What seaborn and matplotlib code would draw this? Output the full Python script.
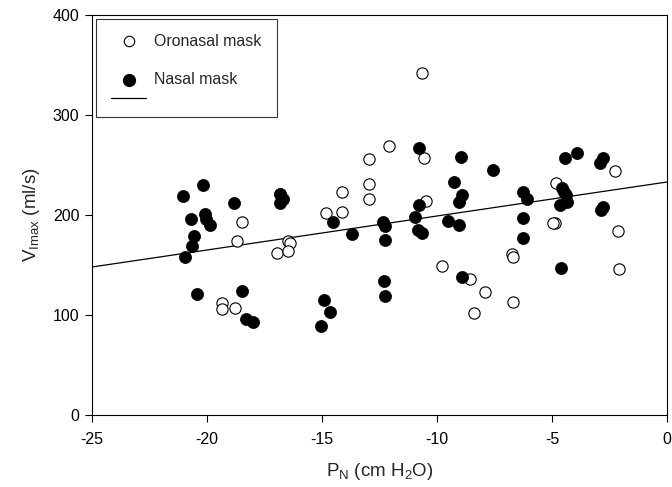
import numpy as np
import pandas as pd
import matplotlib
matplotlib.use("Agg")
import matplotlib.pyplot as plt
from matplotlib.lines import Line2D
from matplotlib.offsetbox import VPacker
import seaborn as sns

# ---- data ----
oro_x = [-10.66, -12.1, -12.94, -10.57, -14.12, -12.96, -12.96, -10.48, -14.81, -14.14,
         -9.77, -8.57, -7.9, -8.38,
         -18.5, -18.7, -16.83, -16.5, -16.38, -16.94, -16.5, -19.35, -19.35, -18.8,
         -2.24, -4.84, -4.87, -4.95, -2.14, -2.1, -6.75, -6.68, -6.68]
oro_y = [342, 269, 256, 257, 223, 231, 216, 214, 202, 203,
         149, 136, 123, 102,
         193, 174, 221, 174, 172, 162, 164, 112, 106, 107,
         244, 232, 192, 192, 184, 146, 161, 158, 113]

nas_x = [-10.78, -8.97, -7.58, -9.25, -8.93, -9.04, -10.8, -10.96, -9.53, -9.06,
         -12.35, -12.27, -10.81, -10.67, -14.54, -13.68, -12.27, -12.32, -12.25, -8.91,
         -14.9, -14.65, -15.06,
         -21.03, -20.19, -18.83, -16.83, -16.68, -16.83, -20.71, -20.07, -20.04, -19.88,
         -20.55, -20.67, -20.97, -20.45, -18.49, -18.32, -17.99,
         -4.43, -3.93, -2.77, -2.9, -6.25, -6.1, -4.58, -4.48, -4.39, -4.36, -4.65,
         -6.25, -6.25, -4.62, -2.77, -2.85]
nas_y = [267, 258, 245, 233, 220, 213, 210, 198, 194, 190,
         193, 189, 185, 182, 193, 181, 175, 134, 119, 138,
         115, 103, 89,
         219, 230, 212, 221, 216, 212, 196, 201, 196, 190,
         179, 169, 158, 121, 124, 96, 93,
         257, 262, 257, 252, 223, 216, 227, 223, 220, 213, 210,
         197, 177, 147, 208, 205]

fit_x = [-25, 0]
fit_y = [148, 233]

x_ticks = [-25, -20, -15, -10, -5, 0]
y_ticks = [0, 100, 200, 300, 400]

# ---- style ----
sns.set_theme(style="white")
plt.rcParams['font.family'] = ['Liberation Sans', 'DejaVu Sans']
plt.rcParams['mathtext.fontset'] = 'custom'
plt.rcParams['mathtext.rm'] = 'Liberation Sans'
plt.rcParams['mathtext.it'] = 'Liberation Sans:italic'

fig = plt.figure(figsize=(6.72, 4.87), dpi=100)
ax = fig.add_axes([92/672, 1-415/487, (667-92)/672, (415-15)/487])

df_o = pd.DataFrame({"x": oro_x, "y": oro_y})
df_n = pd.DataFrame({"x": nas_x, "y": nas_y})
df_f = pd.DataFrame({"x": fit_x, "y": fit_y})

sns.lineplot(data=df_f, x="x", y="y", ax=ax, color="black", linewidth=0.9, zorder=1)
sns.scatterplot(data=df_o, x="x", y="y", ax=ax, s=66, facecolor="white",
                edgecolor="black", linewidth=0.8, zorder=2)
sns.scatterplot(data=df_n, x="x", y="y", ax=ax, s=76, color="black",
                edgecolor="black", linewidth=0.5, zorder=3)

ax.set_xlim(-25, 0)
ax.set_ylim(0, 400)
ax.set_xticks(x_ticks)
ax.set_yticks(y_ticks)
ax.set_xticklabels([str(t) for t in x_ticks])
ax.set_yticklabels([str(t) for t in y_ticks])
ax.tick_params(axis='both', direction='out', length=5, width=0.8, colors='black',
               labelsize=11.5, bottom=True, left=True)
ax.tick_params(axis='x', pad=7)
ax.tick_params(axis='y', pad=4)
for sp in ax.spines.values():
    sp.set_visible(True)
    sp.set_color("black")
    sp.set_linewidth(0.8)

ax.set_xlabel(r"P$_{\mathrm{N}}$ (cm H$_{\mathrm{2}}$O)", fontsize=13.5, labelpad=10)
ax.set_ylabel(r"V$_{\mathrm{Imax}}$ (ml/s)", fontsize=13.5, labelpad=8)

handles = [
    Line2D([], [], marker='o', linestyle='none', markerfacecolor='white',
           markeredgecolor='black', markersize=7.5, markeredgewidth=0.8),
    Line2D([], [], marker='o', linestyle='none', markerfacecolor='black',
           markeredgecolor='black', markersize=8.5),
    Line2D([], [], color='black', linewidth=0.9),
]
leg = ax.legend(handles=handles, labels=["Oronasal mask", "Nasal mask", ""],
                loc="upper left", fontsize=11.4, frameon=True, fancybox=False,
                edgecolor="black", borderpad=0.94, labelspacing=1.48,
                handlelength=2.25, handleheight=0.2, handletextpad=0.5,
                borderaxespad=0.25)
leg.get_frame().set_linewidth(0.8)
leg.get_texts()[2].set_fontsize(1)

# tighter spacing between the "Nasal mask" row and the fit-line row
try:
    col = leg._legend_handle_box.get_children()[0]
    rows = list(col.get_children())
    if len(rows) == 3:
        sub = VPacker(pad=0, sep=4.5, align="baseline", children=[rows[1], rows[2]])
        sub.set_figure(fig)
        col._children = [rows[0], sub]
except Exception:
    pass

fig.savefig("out.png", dpi=100)
